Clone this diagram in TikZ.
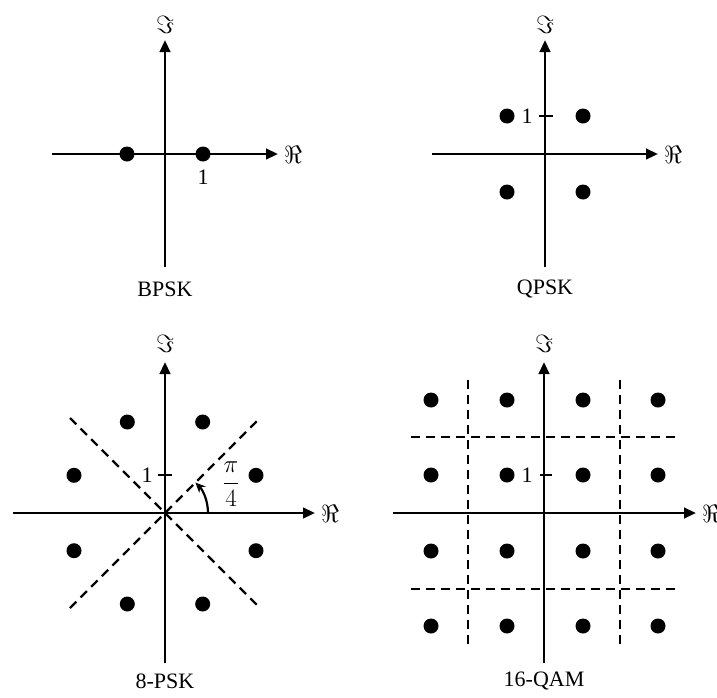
\documentclass[tikz,border=0pt]{standalone}
\usepackage{fontspec}
\setmainfont{Liberation Serif}
\usetikzlibrary{arrows.meta,calc}
\begin{document}
\begin{tikzpicture}[x=1pt,y=-1pt,
  axis/.style={line width=2.6pt,-{Triangle[length=12pt,width=10.5pt]}},
  tickline/.style={line width=2.4pt},
  dline/.style={line width=2.2pt,dash pattern=on 9pt off 6pt},
  sym/.style={circle,fill=black,inner sep=0pt,minimum size=15pt},
  lbl/.style={font=\fontsize{22}{26}\selectfont,inner sep=0pt},
  axlbl/.style={font=\fontsize{23}{27}\selectfont,inner sep=0pt},
  fraclbl/.style={font=\fontsize{24}{28}\selectfont,inner sep=0pt},
  anglearrow/.style={line width=2.2pt,-{Stealth[length=10pt,width=9pt]}}]
\useasboundingbox (0,0) rectangle (717,697);

% ---------------- BPSK ----------------
\coordinate (bO) at (165,154);
\coordinate (bL) at (52,154);
\coordinate (bR) at (278,154);
\coordinate (bB) at (165,267);
\coordinate (bT) at (165,40);
\draw[axis] (bL) -- (bR);
\draw[axis] (bB) -- (bT);
\node[axlbl,anchor=west] (bRe) at (284,155) {$\Re$};
\node[axlbl] (bIm) at (165,25) {$\Im$};
\node[sym] (b1) at (127,154) {};
\node[sym] (b2) at (203,154) {};
\node[lbl] (bOne) at (203,177) {1};
\node[lbl] (bName) at (165,289) {BPSK};

% ---------------- QPSK ----------------
\coordinate (qO) at (545,154);
\coordinate (qL) at (432,154);
\coordinate (qR) at (658,154);
\coordinate (qB) at (545,267);
\coordinate (qT) at (545,40);
\draw[axis] (qL) -- (qR);
\draw[axis] (qB) -- (qT);
\node[axlbl,anchor=west] (qRe) at (664,155) {$\Re$};
\node[axlbl] (qIm) at (545,25) {$\Im$};
\coordinate (qTa) at (539,116);
\coordinate (qTb) at (553,116);
\draw[tickline] (qTa) -- (qTb);
\node[lbl] (qOne) at (527,116) {1};
\foreach \px/\py [count=\i] in {507/116,583/116,507/192,583/192}
  \node[sym] (q\i) at (\px,\py) {};
\node[lbl] (qName) at (545,289) {QPSK};

% ---------------- 8-PSK ----------------
\coordinate (eO) at (165,513);
\coordinate (eL) at (13,513);
\coordinate (eR) at (315,513);
\coordinate (eB) at (165,663);
\coordinate (eT) at (165,362);
\coordinate (eD1a) at (70,418);
\coordinate (eD1b) at (260,608);
\coordinate (eD2a) at (70,608);
\coordinate (eD2b) at (260,418);
\draw[dline] (eD1a) -- (eD1b);
\draw[dline] (eD2a) -- (eD2b);
\draw[axis] (eL) -- (eR);
\draw[axis] (eB) -- (eT);
\node[axlbl,anchor=west] (eRe) at (321,514) {$\Re$};
\node[axlbl] (eIm) at (165,344) {$\Im$};
\coordinate (eTa) at (158,475);
\coordinate (eTb) at (172,475);
\draw[tickline] (eTa) -- (eTb);
\node[lbl] (eOne) at (147,475) {1};
\foreach \a [count=\i] in {22.5,67.5,112.5,157.5,202.5,247.5,292.5,337.5}
  \node[sym] (e\i) at ($(eO)+(\a:98.5)$) {};
\coordinate (eArcStart) at (208,513);
\draw[anglearrow] (eArcStart) arc[start angle=0,end angle=-45,radius=43];
\node[fraclbl,anchor=base] (eFrac) at (231,489) {$\displaystyle\frac{\pi}{4}$};
\node[lbl] (eName) at (165,681) {8-PSK};

% ---------------- 16-QAM ----------------
\coordinate (mO) at (544,513);
\coordinate (mL) at (393,513);
\coordinate (mR) at (696,513);
\coordinate (mB) at (544,663);
\coordinate (mT) at (544,362);
\coordinate (mV1a) at (468,380);
\coordinate (mV1b) at (468,646);
\coordinate (mV2a) at (620,380);
\coordinate (mV2b) at (620,646);
\coordinate (mH1a) at (411,437);
\coordinate (mH1b) at (677,437);
\coordinate (mH2a) at (411,589);
\coordinate (mH2b) at (677,589);
\draw[dline] (mV1a) -- (mV1b);
\draw[dline] (mV2a) -- (mV2b);
\draw[dline] (mH1a) -- (mH1b);
\draw[dline] (mH2a) -- (mH2b);
\draw[axis] (mL) -- (mR);
\draw[axis] (mB) -- (mT);
\node[axlbl,anchor=west] (mRe) at (702,514) {$\Re$};
\node[axlbl] (mIm) at (544,344) {$\Im$};
\coordinate (mTa) at (540,475);
\coordinate (mTb) at (552,475);
\draw[tickline] (mTa) -- (mTb);
\node[lbl] (mOne) at (527,475) {1};
\foreach \py [count=\j] in {400,475,551,626}
  \foreach \px [count=\i] in {431,507,583,658}
    \node[sym] (m\j\i) at (\px,\py) {};
\node[lbl] (mName) at (544,681) {16-QAM};
\end{tikzpicture}
\end{document}
